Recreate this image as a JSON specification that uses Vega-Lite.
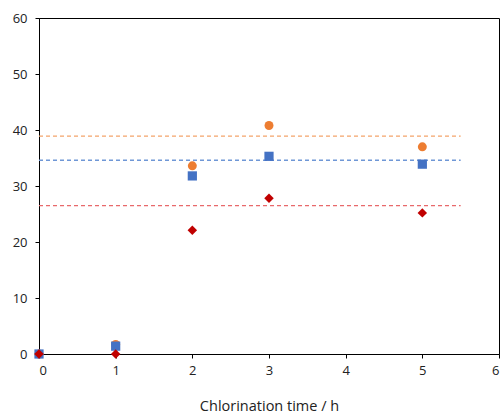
{
  "$schema": "https://vega.github.io/schema/vega-lite/v6.json",
  "autosize": "none",
  "width": 460,
  "height": 336,
  "padding": {"left": 39, "top": 18, "right": 4, "bottom": 60},
  "background": "white",
  "config": {
    "view": {"stroke": "black", "strokeWidth": 1},
    "font": "Open Sans",
    "axis": {
      "domainColor": "black",
      "tickColor": "black",
      "grid": false,
      "labelFont": "Open Sans",
      "labelFontSize": 13,
      "labelColor": "#222",
      "titleFont": "Open Sans",
      "titleFontSize": 14.5,
      "titleFontWeight": "normal",
      "titleColor": "#222",
      "tickSize": 4
    }
  },
  "datasets": {
    "points": [
      {"time": 0, "series": "A", "value": 0},
      {"time": 1, "series": "A", "value": 1.7},
      {"time": 2, "series": "A", "value": 33.6},
      {"time": 3, "series": "A", "value": 40.8},
      {"time": 5, "series": "A", "value": 37.0},
      {"time": 0, "series": "B", "value": 0},
      {"time": 1, "series": "B", "value": 1.4},
      {"time": 2, "series": "B", "value": 31.8},
      {"time": 3, "series": "B", "value": 35.3},
      {"time": 5, "series": "B", "value": 33.9},
      {"time": 0, "series": "C", "value": 0},
      {"time": 1, "series": "C", "value": 0},
      {"time": 2, "series": "C", "value": 22.1},
      {"time": 3, "series": "C", "value": 27.8},
      {"time": 5, "series": "C", "value": 25.2}
    ],
    "means": [
      {"series": "A", "mean": 38.9, "start": 0, "end": 5.5},
      {"series": "B", "mean": 34.6, "start": 0, "end": 5.5},
      {"series": "C", "mean": 26.5, "start": 0, "end": 5.5}
    ]
  },
  "layer": [
    {
      "data": {"name": "means"},
      "mark": {"type": "rule", "strokeDash": [4, 3], "strokeWidth": 1.3},
      "encoding": {
        "x": {"field": "start", "type": "quantitative"},
        "x2": {"field": "end"},
        "y": {"field": "mean", "type": "quantitative"},
        "stroke": {
          "field": "series", "type": "nominal", "legend": null,
          "scale": {"domain": ["A", "B", "C"], "range": ["#F4A46B", "#6F97D6", "#E8696B"]}
        }
      }
    },
    {
      "data": {"name": "points"},
      "mark": {"type": "point", "filled": true, "opacity": 1, "strokeWidth": 0},
      "encoding": {
        "x": {
          "field": "time", "type": "quantitative",
          "scale": {"domain": [0, 6], "nice": false, "zero": false},
          "axis": {"values": [0, 1, 2, 3, 4, 5, 6], "format": "d", "title": "Chlorination time / h", "titlePadding": 22, "labelPadding": 6}
        },
        "y": {
          "field": "value", "type": "quantitative",
          "scale": {"domain": [0, 60], "nice": false},
          "axis": {"values": [0, 10, 20, 30, 40, 50, 60], "format": "d", "title": null, "labelPadding": 8}
        },
        "shape": {
          "field": "series", "type": "nominal", "legend": null,
          "scale": {"domain": ["A", "B", "C"], "range": ["circle", "square", "diamond"]}
        },
        "size": {
          "field": "series", "type": "nominal", "legend": null,
          "scale": {"domain": ["A", "B", "C"], "range": [80, 90, 130]}
        },
        "fill": {
          "field": "series", "type": "nominal", "legend": null,
          "scale": {"domain": ["A", "B", "C"], "range": ["#ED7D31", "#4472C4", "#C00000"]}
        },
        "order": {"field": "series", "sort": "ascending"}
      }
    }
  ],
  "resolve": {"scale": {"stroke": "independent", "fill": "independent"}}
}
